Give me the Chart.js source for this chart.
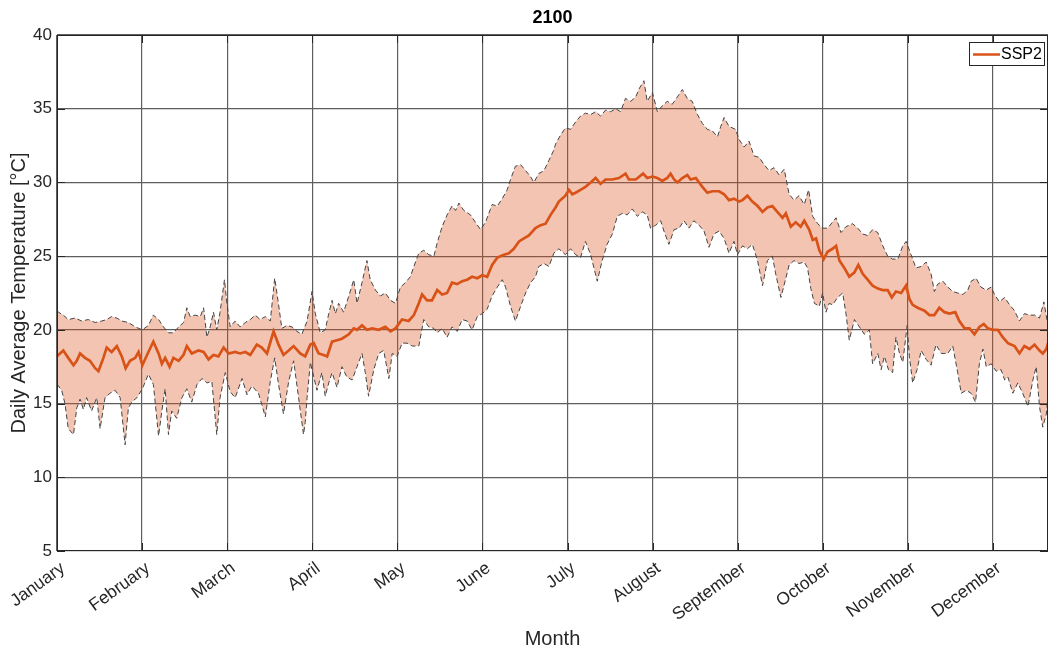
<!DOCTYPE html>
<html>
<head>
<meta charset="utf-8">
<title>2100 – Daily Average Temperature</title>
<script src="https://cdn.jsdelivr.net/npm/chart.js@4.4.1/dist/chart.umd.min.js"></script>
<style>
  html, body { margin: 0; padding: 0; background: #ffffff; }
  #wrap { width: 1049px; height: 655px; position: relative; }
</style>
</head>
<body>
<div id="wrap"><canvas id="c" width="1049" height="655"></canvas></div>
<script>
// ---- Axis labels and ticks ----
const chartTitle = '2100';
const seriesName = 'SSP2';
const monthNames = ['January', 'February', 'March', 'April', 'May', 'June', 'July',
                    'August', 'September', 'October', 'November', 'December'];
const monthStartDays = [0, 31, 62, 93, 124, 155, 186, 217, 248, 279, 310, 341];
const yTicks = [5, 10, 15, 20, 25, 30, 35, 40];

// ---- SSP2 ensemble mean (day of year, °C) ----
const meanDays = [0, 0.5, 2.3, 4.1, 6.0, 7.2, 8.4, 10.2, 12.0, 13.9, 15.1, 16.9, 18.1, 19.9, 21.8, 23.6, 25.0, 26.6, 28.5, 29.7,
  31.1, 33.3, 35.1, 37.0, 38.2, 39.4, 41.0, 42.4, 44.3, 46.1, 47.3, 49.1, 51.5, 53.4, 55.2, 57.0, 58.8, 60.7, 62.5, 64.9,
  66.7, 68.6, 70.4, 72.8, 74.6, 76.5, 78.9, 80.7, 82.5, 84.4, 86.2, 88.6, 90.4, 92.3, 93.5, 95.3, 97.1, 98.4, 100.2, 102.0,
  103.8, 106.3, 108.1, 109.3, 111.1, 112.9, 114.8, 117.2, 119.6, 121.5, 123.3, 125.7, 128.1, 130.0, 131.8, 133.0, 134.8, 136.6, 138.5, 140.3,
  142.1, 143.9, 145.8, 147.6, 149.4, 151.2, 153.1, 154.9, 156.7, 158.5, 160.4, 162.8, 164.6, 166.4, 168.3, 170.1, 171.9, 174.3, 176.2, 178.0,
  179.8, 181.6, 182.8, 185.2, 186.5, 187.7, 188.9, 190.7, 192.5, 194.4, 196.2, 198.0, 199.8, 202.3, 204.7, 207.1, 208.3, 210.8, 213.5, 215.0,
  216.9, 218.7, 220.5, 222.3, 223.5, 224.8, 226.0, 227.8, 229.6, 230.8, 232.7, 235.1, 236.9, 238.7, 241.2, 243.0, 244.8, 246.6, 248.5, 249.7,
  251.5, 253.3, 255.2, 257.0, 258.8, 260.6, 262.4, 264.3, 265.5, 267.3, 269.1, 270.9, 272.2, 274.0, 275.3, 276.5, 277.7, 279.3, 280.7, 282.5,
  283.8, 285.0, 286.8, 288.6, 290.5, 291.9, 293.5, 295.3, 297.1, 299.0, 300.8, 302.6, 304.1, 305.6, 307.5, 309.3, 310.5, 311.7, 313.5, 316.0,
  317.8, 319.6, 321.4, 323.3, 325.1, 327.2, 328.7, 330.6, 332.4, 334.2, 336.0, 337.6, 339.1, 340.9, 342.7, 344.5, 346.4, 348.8, 350.6, 352.4,
  354.3, 356.1, 357.9, 359.1, 360.4, 361.0];
const meanTemps = [18.2, 18.3, 18.6, 18.1, 17.6, 17.9, 18.4, 18.1, 17.9, 17.4, 17.2, 18.1, 18.8, 18.5, 18.9, 18.2, 17.4, 17.9, 18.1, 18.5,
  17.6, 18.5, 19.2, 18.4, 17.7, 18.1, 17.5, 18.1, 17.9, 18.3, 18.9, 18.4, 18.6, 18.5, 18.0, 18.3, 18.2, 18.8, 18.4, 18.5,
  18.4, 18.5, 18.3, 19.0, 18.8, 18.4, 19.9, 19.0, 18.3, 18.6, 18.9, 18.4, 18.2, 19.0, 19.1, 18.4, 18.3, 18.2, 19.2, 19.3,
  19.4, 19.7, 20.1, 20.0, 20.3, 20.0, 20.1, 20.0, 20.2, 19.9, 20.1, 20.7, 20.6, 21.0, 21.8, 22.4, 22.0, 22.0, 22.7, 22.4,
  22.5, 23.2, 23.1, 23.3, 23.4, 23.6, 23.5, 23.7, 23.6, 24.4, 24.9, 25.1, 25.2, 25.5, 26.0, 26.2, 26.4, 26.9, 27.1, 27.2,
  27.8, 28.3, 28.7, 29.1, 29.5, 29.2, 29.3, 29.5, 29.7, 30.0, 30.3, 29.9, 30.2, 30.2, 30.3, 30.6, 30.2, 30.2, 30.6, 30.3,
  30.4, 30.3, 30.1, 30.3, 30.6, 30.2, 30.0, 30.3, 30.5, 30.2, 30.3, 29.7, 29.3, 29.4, 29.4, 29.2, 28.8, 28.9, 28.7, 28.8,
  29.1, 28.7, 28.4, 28.0, 28.3, 28.4, 28.0, 27.6, 27.9, 27.0, 27.3, 27.0, 27.4, 26.8, 26.1, 26.2, 25.4, 24.8, 25.3, 25.5,
  25.7, 24.7, 24.2, 23.6, 23.9, 24.4, 23.8, 23.4, 23.0, 22.8, 22.7, 22.7, 22.2, 22.6, 22.5, 23.0, 22.1, 21.7, 21.5, 21.3,
  21.0, 21.0, 21.5, 21.2, 21.1, 21.2, 20.6, 20.1, 20.1, 19.7, 20.2, 20.4, 20.1, 20.0, 20.0, 19.5, 19.1, 18.9, 18.4, 18.9,
  18.7, 19.0, 18.6, 18.4, 18.7, 19.1];

// ---- Upper bound of the ensemble range ----
const upperDays = [0, 0.5, 2.3, 4.1, 6.6, 9.0, 11.4, 13.9, 16.3, 18.1, 19.9, 21.8, 23.6, 26.0, 28.5, 31.1, 33.3, 35.1, 37.0, 38.8,
  40.6, 42.4, 44.3, 46.1, 47.3, 48.5, 50.3, 52.2, 53.4, 54.6, 55.8, 57.0, 58.2, 59.4, 61.0, 61.9, 63.1, 64.9, 66.7, 68.6,
  70.4, 72.2, 74.0, 75.9, 77.7, 79.3, 80.5, 81.9, 83.8, 85.6, 87.4, 89.2, 91.1, 92.9, 94.1, 95.9, 97.7, 99.0, 100.2, 101.4,
  102.6, 104.4, 106.3, 108.1, 109.3, 111.1, 112.9, 114.1, 116.0, 117.8, 119.6, 121.5, 123.3, 125.1, 126.9, 128.7, 130.0, 131.8, 133.6, 135.4,
  137.3, 138.5, 140.3, 142.1, 143.9, 145.2, 146.4, 148.2, 150.6, 152.4, 154.3, 156.1, 158.5, 160.4, 162.2, 164.0, 165.2, 167.0, 168.9, 170.7,
  172.5, 173.7, 175.5, 177.4, 179.2, 181.0, 181.6, 183.4, 185.2, 187.1, 188.9, 190.7, 192.5, 194.4, 196.2, 198.0, 199.8, 201.7, 203.5, 205.3,
  207.1, 209.0, 210.8, 212.2, 213.8, 215.0, 216.9, 218.7, 220.5, 222.3, 224.1, 226.0, 227.8, 229.6, 231.4, 233.3, 235.1, 236.9, 238.7, 240.6,
  241.8, 243.0, 244.8, 247.2, 248.5, 250.3, 252.1, 253.9, 255.8, 257.6, 259.4, 261.2, 263.1, 264.9, 266.7, 268.5, 270.3, 272.2, 273.8, 275.3,
  277.1, 278.9, 280.7, 282.5, 283.8, 285.6, 287.4, 289.8, 291.7, 293.5, 295.3, 297.1, 299.0, 300.8, 302.6, 304.4, 306.3, 308.1, 309.3, 311.1,
  312.9, 314.8, 316.6, 318.4, 319.6, 320.8, 322.7, 324.5, 326.3, 328.1, 330.0, 331.8, 333.0, 334.8, 336.6, 338.5, 340.3, 341.5, 343.3, 345.2,
  347.0, 348.8, 350.6, 352.4, 354.3, 356.1, 357.9, 359.5, 361.0];
const upperTemps = [21.3, 21.2, 21.0, 20.7, 20.8, 20.6, 20.7, 20.5, 20.6, 20.7, 20.9, 20.8, 20.6, 20.5, 20.2, 20.0, 20.3, 21.0, 20.7, 20.2,
  19.8, 19.8, 20.2, 20.5, 21.5, 20.9, 21.0, 20.9, 21.5, 19.5, 20.2, 21.2, 20.0, 21.2, 23.4, 21.8, 20.2, 20.6, 20.2, 20.5,
  20.7, 21.0, 20.7, 20.9, 20.6, 23.5, 22.0, 20.1, 20.3, 20.2, 19.9, 19.7, 20.6, 22.6, 21.1, 19.8, 20.0, 21.1, 22.0, 21.1,
  21.8, 21.2, 22.3, 23.4, 21.8, 23.2, 24.7, 23.4, 22.7, 22.3, 22.5, 22.0, 21.8, 22.9, 23.2, 23.6, 24.3, 25.2, 25.4, 25.1,
  25.0, 25.9, 27.0, 27.8, 28.4, 28.1, 28.6, 28.1, 27.8, 27.3, 26.8, 27.3, 28.5, 28.4, 28.9, 29.5, 30.2, 31.1, 31.2, 30.8,
  30.4, 30.0, 30.6, 30.8, 31.5, 32.2, 32.6, 33.2, 33.7, 33.6, 34.1, 34.5, 34.7, 34.6, 34.8, 34.5, 34.9, 34.8, 35.0, 34.8,
  35.7, 35.5, 35.8, 36.4, 36.9, 35.5, 36.1, 34.8, 35.2, 35.5, 35.3, 35.8, 36.3, 35.7, 35.5, 34.6, 34.0, 33.6, 33.5, 33.1,
  33.8, 34.4, 33.8, 33.6, 32.9, 32.4, 32.8, 31.8, 31.7, 31.2, 30.8, 31.0, 30.5, 30.9, 29.2, 28.8, 29.1, 28.5, 29.5, 27.7,
  27.2, 26.9, 26.9, 27.3, 27.6, 26.6, 27.0, 27.2, 26.9, 26.5, 26.4, 26.8, 26.6, 25.7, 25.0, 24.8, 24.8, 25.7, 26.0, 25.1,
  24.2, 24.3, 24.6, 23.8, 22.6, 23.1, 23.3, 22.9, 22.6, 22.5, 22.4, 22.7, 23.3, 23.5, 22.9, 22.7, 22.9, 22.4, 21.9, 22.2,
  21.7, 21.3, 20.6, 21.1, 21.0, 21.0, 20.8, 21.9, 20.3];

// ---- Lower bound of the ensemble range ----
const lowerDays = [0, 0.5, 1.7, 2.9, 4.1, 6.0, 7.2, 8.4, 9.6, 10.8, 12.6, 14.5, 15.7, 17.5, 19.3, 21.2, 23.0, 24.8, 26.0, 27.2,
  29.1, 31.1, 33.3, 35.1, 37.0, 38.2, 39.4, 40.6, 41.8, 43.6, 45.5, 47.3, 49.1, 51.0, 52.8, 54.6, 56.4, 58.2, 59.4, 61.3,
  63.1, 64.9, 67.4, 69.2, 71.0, 73.4, 75.9, 77.7, 79.3, 80.7, 82.5, 84.4, 86.2, 88.0, 89.8, 90.4, 91.1, 92.3, 92.9, 94.7,
  96.5, 97.7, 99.0, 100.2, 102.0, 103.8, 105.6, 107.5, 109.3, 111.1, 112.3, 113.5, 115.4, 117.2, 119.0, 120.9, 122.1, 123.9, 125.7, 127.5,
  129.4, 131.8, 133.6, 135.4, 137.3, 138.5, 140.3, 142.1, 143.9, 145.8, 147.6, 149.4, 151.2, 153.1, 154.9, 156.7, 158.5, 160.4, 162.2, 163.4,
  165.2, 167.0, 168.9, 170.7, 172.5, 174.3, 175.5, 177.4, 179.2, 181.0, 182.8, 185.2, 187.1, 188.9, 190.7, 192.5, 194.4, 196.8, 198.6, 200.4,
  202.3, 204.1, 205.9, 207.7, 209.6, 211.4, 213.2, 215.0, 216.2, 218.1, 219.9, 221.1, 222.9, 224.8, 226.6, 228.4, 230.2, 232.0, 233.9, 235.7,
  237.5, 239.3, 241.2, 243.0, 244.8, 246.6, 247.9, 249.7, 251.5, 253.3, 255.2, 257.0, 258.8, 260.6, 261.8, 263.7, 265.5, 266.7, 268.5, 270.3,
  272.2, 273.4, 274.6, 275.9, 277.7, 278.9, 280.1, 281.3, 282.5, 284.4, 286.2, 287.4, 288.6, 290.5, 292.3, 294.1, 295.9, 297.1, 299.0, 300.2,
  301.4, 302.9, 304.4, 305.6, 306.9, 308.1, 309.7, 310.5, 311.7, 313.3, 314.8, 316.6, 318.4, 320.2, 322.1, 324.5, 326.3, 328.1, 329.4, 331.2,
  333.0, 334.6, 336.0, 337.3, 338.5, 340.3, 342.1, 343.9, 345.2, 346.4, 348.2, 350.0, 351.8, 353.7, 355.5, 356.7, 357.9, 359.1, 360.4, 361.0];
const lowerTemps = [16.3, 16.2, 15.9, 15.0, 13.3, 12.9, 14.7, 15.3, 14.6, 15.4, 14.5, 15.4, 13.3, 15.4, 15.7, 15.9, 15.4, 12.2, 14.7, 15.1,
  15.4, 16.0, 17.0, 16.3, 12.8, 14.5, 16.0, 12.9, 14.5, 14.0, 15.4, 16.0, 15.1, 16.3, 16.7, 16.4, 16.5, 12.9, 15.4, 17.1,
  15.8, 15.4, 16.7, 15.6, 16.2, 15.7, 14.1, 16.5, 18.1, 16.3, 14.3, 16.5, 17.9, 15.4, 12.9, 13.7, 15.4, 17.8, 17.3, 15.9,
  17.1, 15.5, 16.4, 17.1, 16.1, 17.5, 16.8, 16.6, 17.5, 18.4, 17.1, 15.5, 17.3, 18.4, 18.6, 16.7, 18.4, 18.2, 19.1, 19.1,
  18.9, 18.9, 20.7, 20.2, 20.1, 19.8, 20.1, 19.5, 20.2, 19.9, 20.7, 20.6, 20.0, 20.9, 21.1, 21.4, 22.3, 22.9, 23.4, 22.9,
  21.6, 20.6, 21.6, 22.5, 23.2, 23.6, 24.3, 24.5, 24.3, 25.2, 25.5, 25.1, 25.5, 25.1, 24.9, 26.0, 25.1, 23.3, 24.7, 25.8,
  26.5, 27.7, 27.9, 27.8, 28.2, 27.7, 28.0, 27.8, 26.9, 27.1, 27.4, 26.7, 25.8, 26.8, 26.9, 27.4, 26.9, 27.4, 27.1, 26.7,
  25.6, 26.5, 26.7, 26.2, 25.2, 26.0, 25.1, 25.7, 25.5, 25.8, 24.7, 23.0, 24.7, 25.0, 23.8, 22.2, 23.5, 24.4, 24.7, 24.5,
  24.6, 24.2, 22.8, 21.8, 21.6, 22.5, 21.2, 21.8, 21.7, 22.2, 22.5, 21.1, 19.3, 20.7, 20.2, 19.7, 20.0, 17.7, 18.4, 17.3,
  18.2, 17.3, 17.1, 19.5, 18.4, 17.8, 20.3, 18.2, 16.4, 17.3, 18.6, 18.0, 17.6, 19.0, 18.4, 18.4, 18.9, 17.1, 15.7, 15.9,
  15.7, 15.1, 17.7, 18.7, 17.5, 17.7, 17.2, 17.3, 16.6, 16.8, 15.7, 16.4, 15.7, 14.8, 16.6, 17.5, 14.8, 13.4, 14.3, 15.5];

// ---- Styling ----
const FONT = '"Liberation Sans", Arial, Helvetica, sans-serif';
const INK = '#262626';
const LINE_ORANGE = '#D95319';
const BAND_FILL = 'rgba(217, 83, 25, 0.34)';
const BOUND_LINE = '#444444';
const GRID = '#5e5e5e';

const toPoints = (days, temps) => days.map((d, i) => ({ x: d, y: temps[i] }));

// Axes box, inward tick marks, title and legend, drawn on top of the plot.
const axesDecor = {
  id: 'axesDecor',
  afterDraw(chart) {
    const { ctx, chartArea: a, scales } = chart;
    ctx.save();
    ctx.strokeStyle = INK;
    ctx.lineWidth = 1;
    ctx.strokeRect(a.left + 0.5, a.top + 0.5, a.right - a.left - 1, a.bottom - a.top - 1);

    const len = 8;
    ctx.beginPath();
    monthStartDays.forEach(d => {
      const x = Math.round(scales.x.getPixelForValue(d)) + 0.5;
      ctx.moveTo(x, a.bottom); ctx.lineTo(x, a.bottom - len);
      ctx.moveTo(x, a.top); ctx.lineTo(x, a.top + len);
    });
    yTicks.forEach(v => {
      const y = Math.round(scales.y.getPixelForValue(v)) + 0.5;
      ctx.moveTo(a.left, y); ctx.lineTo(a.left + len, y);
      ctx.moveTo(a.right, y); ctx.lineTo(a.right - len, y);
    });
    ctx.stroke();

    // title
    ctx.fillStyle = '#000000';
    ctx.font = 'bold 18px ' + FONT;
    ctx.textAlign = 'center';
    ctx.textBaseline = 'middle';
    ctx.fillText(chartTitle, (a.left + a.right) / 2, 18);

    // legend
    const lx = 969, ly = 42, lw = 75, lh = 23;
    ctx.fillStyle = '#ffffff';
    ctx.fillRect(lx, ly, lw, lh);
    ctx.strokeStyle = INK;
    ctx.lineWidth = 1;
    ctx.strokeRect(lx + 0.5, ly + 0.5, lw, lh);
    ctx.strokeStyle = LINE_ORANGE;
    ctx.lineWidth = 2.5;
    ctx.beginPath();
    ctx.moveTo(lx + 4, ly + lh / 2 + 1);
    ctx.lineTo(lx + 31, ly + lh / 2 + 1);
    ctx.stroke();
    ctx.fillStyle = '#000000';
    ctx.font = '16px ' + FONT;
    ctx.textAlign = 'left';
    ctx.textBaseline = 'middle';
    ctx.fillText(seriesName, lx + 32, ly + lh / 2 + 1.5);
    ctx.restore();
  }
};

new Chart(document.getElementById('c'), {
  type: 'line',
  data: {
    datasets: [
      {
        label: seriesName,
        data: toPoints(meanDays, meanTemps),
        borderColor: LINE_ORANGE,
        borderWidth: 2.7,
        pointRadius: 0,
        tension: 0,
        fill: false
      },
      {
        label: 'upper',
        data: toPoints(upperDays, upperTemps),
        borderColor: BOUND_LINE,
        borderWidth: 1,
        borderDash: [5, 3],
        pointRadius: 0,
        tension: 0,
        backgroundColor: BAND_FILL,
        fill: '+1'
      },
      {
        label: 'lower',
        data: toPoints(lowerDays, lowerTemps),
        borderColor: BOUND_LINE,
        borderWidth: 1,
        borderDash: [5, 3],
        pointRadius: 0,
        tension: 0,
        fill: false
      }
    ]
  },
  options: {
    responsive: false,
    animation: false,
    devicePixelRatio: 1,
    layout: { padding: { top: 35, right: 1, left: 0, bottom: 0 } },
    plugins: {
      legend: { display: false },
      title: { display: false },
      tooltip: { enabled: false },
      filler: { drawTime: 'beforeDatasetsDraw' }
    },
    scales: {
      x: {
        type: 'linear',
        min: 0,
        max: 361,
        afterBuildTicks: scale => { scale.ticks = monthStartDays.map(v => ({ value: v })); },
        afterFit: scale => {
          scale.height = 104;
          scale.paddingLeft = 0;
          scale.paddingRight = 0;
        },
        grid: { color: GRID, lineWidth: 1.2, drawTicks: false },
        border: { display: false },
        ticks: {
          autoSkip: false,
          minRotation: 36,
          maxRotation: 36,
          padding: 7,
          labelOffset: 6,
          color: INK,
          font: { family: FONT, size: 17.5 },
          callback: (value, index) => monthNames[index]
        },
        title: {
          display: true,
          text: 'Month',
          color: INK,
          font: { family: FONT, size: 20 },
          padding: { top: 0, bottom: 4 }
        }
      },
      y: {
        min: 5,
        max: 40,
        afterBuildTicks: scale => { scale.ticks = yTicks.map(v => ({ value: v })); },
        afterFit: scale => { scale.width = 57; },
        grid: { color: GRID, lineWidth: 1.2, drawTicks: false },
        border: { display: false },
        ticks: {
          padding: 5,
          color: INK,
          font: { family: FONT, size: 17 }
        },
        title: {
          display: true,
          text: 'Daily Average Temperature [°C]',
          color: INK,
          font: { family: FONT, size: 20 },
          padding: { top: 7, bottom: 0 }
        }
      }
    }
  },
  plugins: [axesDecor]
});
</script>
</body>
</html>
